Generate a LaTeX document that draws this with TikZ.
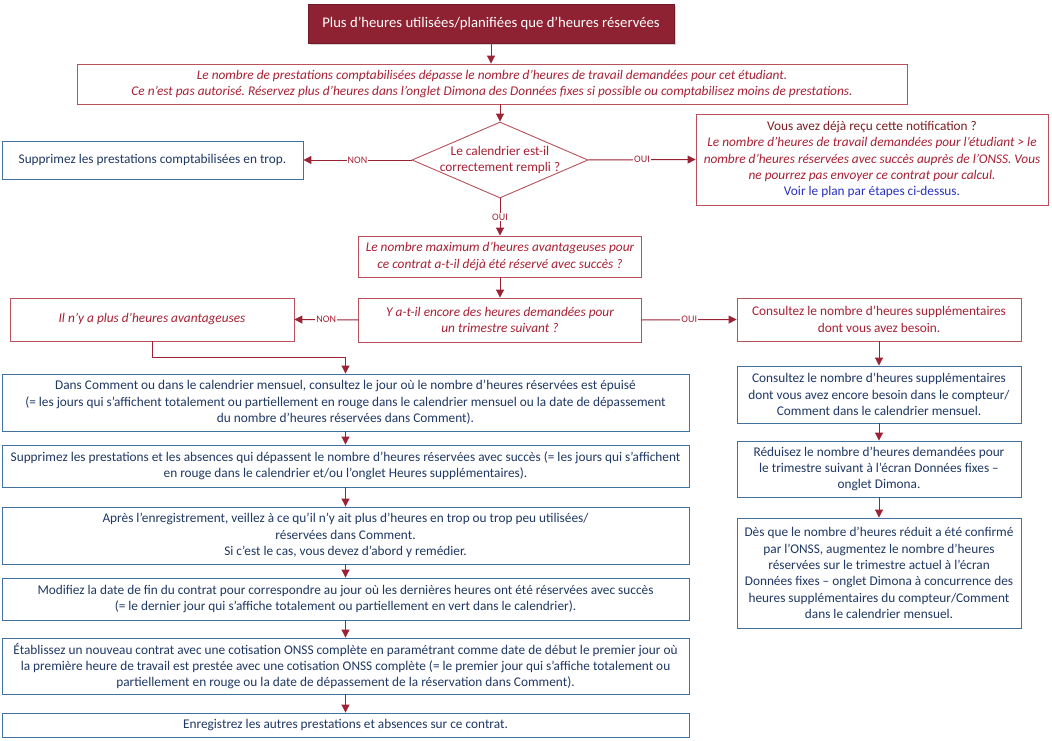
\documentclass[tikz,border=0pt]{standalone}
\usepackage{fontspec}
\setmainfont{Carlito}
\frenchspacing
\usetikzlibrary{shapes.geometric,arrows.meta,shadows}
\definecolor{titlered}{RGB}{142,34,50}
\definecolor{boxred}{RGB}{185,80,92}
\definecolor{txtred}{RGB}{168,32,52}
\definecolor{darkred}{RGB}{125,30,35}
\definecolor{arrred}{RGB}{155,35,53}
\definecolor{boxblue}{RGB}{65,113,156}
\definecolor{txtblue}{RGB}{31,56,100}
\definecolor{linkblue}{RGB}{40,50,190}
\begin{document}
\begin{tikzpicture}[x=1pt,y=-1pt,
  box/.style={draw, line width=0.9pt, fill=white, align=center, inner sep=0pt},
  redbox/.style={box, draw=boxred, text=txtred, font=\fontsize{13.3}{16.3}\selectfont\itshape},
  bluebox/.style={box, draw=boxblue, text=txtblue, font=\fontsize{13.3}{16.3}\selectfont},
  arr/.style={draw=arrred, line width=1pt, -{Triangle[length=8pt,width=8pt]}},
  yesno/.style={fill=white, text=txtred, font=\fontsize{10}{11}\selectfont, inner sep=1pt}]
\useasboundingbox (0,0) rectangle (1052,741);
% top of the chart
\node[box, draw=titlered!80!black, fill=titlered, text=white, font=\fontsize{14.7}{17}\selectfont,
  minimum width=366pt, minimum height=39pt,
  drop shadow={shadow xshift=2pt, shadow yshift=-2pt, opacity=0.35}] (titre) at (491,23.5)
  {Plus d’heures utilisées/planifiées que d’heures réservées};
\node[redbox, minimum width=830pt, minimum height=40pt] (depasse) at (492,84)
  {Le nombre de prestations comptabilisées dépasse le nombre d’heures de travail demandées pour cet étudiant.\\
   Ce n’est pas autorisé. Réservez plus d’heures dans l’onglet Dimona des Données fixes si possible ou comptabilisez moins de prestations.};
\node[diamond, draw=boxred, line width=0.9pt, fill=white, inner sep=0pt,
  minimum width=176pt, minimum height=76pt] (calendrier) at (500,160) {};
\node[text=txtred, align=center, font=\fontsize{13.3}{16.3}\selectfont] (calq) at (calendrier)
  {Le calendrier est-il\\correctement rempli ?};
\node[bluebox, minimum width=301pt, minimum height=38pt] (trop) at (152.5,160)
  {Supprimez les prestations comptabilisées en trop.};
\node[redbox, minimum width=352pt, minimum height=91pt] (notif) at (872,159.5)
  {{\upshape\color{darkred}Vous avez déjà reçu cette notification ?}\\
   Le nombre d’heures de travail demandées pour l’étudiant > le\\
   nombre d’heures réservées avec succès auprès de l’ONSS. Vous\\
   ne pourrez pas envoyer ce contrat pour calcul.\\
   {\upshape\color{linkblue}Voir le plan par étapes ci-dessus.}};
% middle row
\node[redbox, minimum width=283pt, minimum height=41pt] (maximum) at (500,256.5)
  {Le nombre maximum d’heures avantageuses pour\\ce contrat a-t-il déjà été réservé avec succès ?};
\node[redbox, minimum width=283pt, minimum height=44pt] (trimestre) at (500,320)
  {Y a-t-il encore des heures demandées pour\\un trimestre suivant ?};
\node[redbox, minimum width=284pt, minimum height=43pt] (plusavant) at (152,319.5)
  {Il n’y a plus d’heures avantageuses};
\node[redbox, font=\fontsize{13.3}{16.3}\selectfont, minimum width=284pt, minimum height=43pt] (supp) at (879,319.5)
  {Consultez le nombre d’heures supplémentaires\\dont vous avez besoin.};
% left column
\node[bluebox, minimum width=687pt, minimum height=57pt] (comment) at (345.5,402.5)
  {Dans Comment ou dans le calendrier mensuel, consultez le jour où le nombre d’heures réservées est épuisé\\
   (= les jours qui s’affichent totalement ou partiellement en rouge dans le calendrier mensuel ou la date de dépassement\\
   du nombre d’heures réservées dans Comment).};
\node[bluebox, minimum width=687pt, minimum height=42pt] (supprimez) at (345.5,466)
  {Supprimez les prestations et les absences qui dépassent le nombre d’heures réservées avec succès (= les jours qui s’affichent\\
   en rouge dans le calendrier et/ou l’onglet Heures supplémentaires).};
\node[bluebox, minimum width=687pt, minimum height=57pt] (apres) at (345.5,535.5)
  {Après l’enregistrement, veillez à ce qu’il n’y ait plus d’heures en trop ou trop peu utilisées/\\
   réservées dans Comment.\\
   Si c’est le cas, vous devez d’abord y remédier.};
\node[bluebox, minimum width=687pt, minimum height=42pt] (datefin) at (345.5,599)
  {Modifiez la date de fin du contrat pour correspondre au jour où les dernières heures ont été réservées avec succès\\
   (= le dernier jour qui s’affiche totalement ou partiellement en vert dans le calendrier).};
\node[bluebox, minimum width=687pt, minimum height=56pt] (nouveau) at (345.5,666)
  {Établissez un nouveau contrat avec une cotisation ONSS complète en paramétrant comme date de début le premier jour où\\
   la première heure de travail est prestée avec une cotisation ONSS complète (= le premier jour qui s’affiche totalement ou\\
   partiellement en rouge ou la date de dépassement de la réservation dans Comment).};
\node[bluebox, minimum width=687pt, minimum height=24pt] (enregistrez) at (345.5,725)
  {Enregistrez les autres prestations et absences sur ce contrat.};
% right column
\node[bluebox, minimum width=284pt, minimum height=57pt] (compteur) at (879,394.5)
  {Consultez le nombre d’heures supplémentaires\\dont vous avez encore besoin dans le compteur/\\Comment dans le calendrier mensuel.};
\node[bluebox, minimum width=284pt, minimum height=56pt] (reduisez) at (879,469)
  {Réduisez le nombre d’heures demandées pour\\le trimestre suivant à l’écran Données fixes –\\onglet Dimona.};
\node[bluebox, minimum width=284pt, minimum height=110pt] (desque) at (879,573)
  {Dès que le nombre d’heures réduit a été confirmé\\par l’ONSS, augmentez le nombre d’heures\\réservées sur le trimestre actuel à l’écran\\
   Données fixes – onglet Dimona à concurrence des\\heures supplémentaires du compteur/Comment\\dans le calendrier mensuel.};
% connectors
\draw[arr] (titre.south) -- (titre.south |- depasse.north);
\draw[arr] (calendrier.north |- depasse.south) -- (calendrier.north);
\draw[arr] (calendrier.west) -- node[yesno]{NON} (trop.east);
\draw[arr] (calendrier.east) -- node[yesno]{OUI} (notif.west);
\draw[arr] (calendrier.south) -- node[yesno]{OUI} (maximum.north);
\draw[arr] (maximum.south) -- (trimestre.north);
\draw[arr] (trimestre.west) -- node[yesno]{NON} (plusavant.east);
\draw[arr] (trimestre.east) -- node[yesno]{OUI} (supp.west);
\draw[arr] (plusavant.south) -- ++(0,16) -| (comment.north);
\foreach \a/\b in {comment/supprimez, supprimez/apres, apres/datefin, datefin/nouveau, nouveau/enregistrez,
  supp/compteur, compteur/reduisez, reduisez/desque} % vertical steps
\draw[arr] (\a.south) -- (\b.north);
\end{tikzpicture}
\end{document}
